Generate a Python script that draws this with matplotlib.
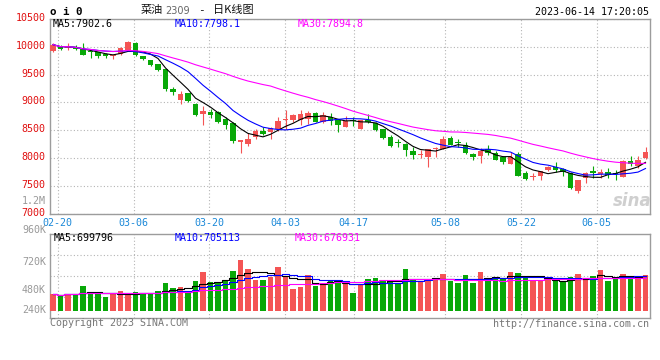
import matplotlib.pyplot as plt
import matplotlib.transforms as mtransforms
import numpy as np
import pandas as pd

# daily bars 02-17 .. 06-14
opens = [9920, 10000, 9975, 9990, 9965, 9920, 9900, 9875, 9828, 9875,
         9935, 10070, 9835, 9755, 9685, 9595, 9238, 9042, 9167, 8970,
         8798, 8827, 8830, 8702, 8637, 8285, 8250, 8375, 8494, 8476,
         8518, 8690, 8677, 8689, 8700, 8815, 8641, 8737, 8690, 8563,
         8683, 8520, 8677, 8630, 8527, 8378, 8280, 8244, 8119, 8060,
         8024, 8155, 8167, 8363, 8286, 8238, 8066, 8030, 8167, 8090,
         8012, 7900, 8080, 7732, 7655, 7673, 7780, 7839, 7804, 7726,
         7417, 7643, 7762, 7720, 7744, 7732, 7661, 7952, 7851, 8000]
highs = [10060, 10030, 10060, 10040, 10065, 9935, 9910, 9890, 9860, 9990,
         10100, 10085, 9840, 9760, 9690, 9600, 9280, 9200, 9175, 8990,
         8935, 8875, 8840, 8730, 8645, 8320, 8445, 8518, 8565, 8565,
         8732, 8868, 8797, 8868, 8850, 8820, 8826, 8809, 8707, 8761,
         8737, 8690, 8790, 8647, 8530, 8420, 8345, 8268, 8208, 8149,
         8161, 8208, 8399, 8399, 8340, 8286, 8100, 8179, 8238, 8120,
         8030, 8107, 8101, 7762, 7732, 7774, 7851, 7923, 7821, 7744,
         7601, 7750, 7863, 7804, 7821, 7792, 7970, 8042, 8042, 8196]
lows = [9900, 9950, 9950, 9935, 9845, 9800, 9800, 9800, 9780, 9860,
        9930, 9835, 9760, 9650, 9560, 9210, 9137, 8970, 9010, 8756,
        8600, 8715, 8635, 8530, 8275, 8090, 8220, 8340, 8417, 8340,
        8494, 8520, 8640, 8600, 8610, 8640, 8630, 8600, 8474, 8563,
        8580, 8515, 8630, 8480, 8342, 8205, 8208, 8030, 7982, 8000,
        7834, 8024, 8155, 8226, 8208, 8066, 7960, 7911, 8060, 7958,
        7900, 7900, 7670, 7613, 7613, 7613, 7762, 7750, 7685, 7453,
        7375, 7554, 7643, 7643, 7643, 7613, 7661, 7851, 7821, 7982]
closes = [10040, 9965, 10000, 9960, 9850, 9900, 9830, 9840, 9857, 9976,
          10085, 9845, 9775, 9670, 9575, 9235, 9190, 9149, 9030, 8780,
          8845, 8774, 8650, 8595, 8305, 8316, 8350, 8494, 8441, 8536,
          8673, 8705, 8767, 8791, 8803, 8653, 8779, 8665, 8587, 8659,
          8670, 8677, 8645, 8510, 8354, 8223, 8265, 8149, 8060, 8070,
          8161, 8190, 8345, 8238, 8270, 8083, 8012, 8131, 8090, 7970,
          7923, 8018, 7673, 7631, 7685, 7774, 7833, 7792, 7750, 7464,
          7601, 7732, 7726, 7744, 7702, 7708, 7952, 7893, 7958, 8107]
volumes = [337, 317, 337, 337, 499, 378, 351, 277, 337, 398,
           337, 378, 337, 337, 398, 560, 459, 479, 398, 600,
           782, 580, 560, 600, 802, 1024, 842, 620, 620, 681,
           883, 681, 438, 479, 721, 499, 539, 620, 600, 539,
           364, 539, 640, 661, 600, 580, 539, 842, 620, 600,
           620, 620, 741, 600, 560, 721, 560, 782, 640, 681,
           640, 782, 762, 681, 620, 620, 620, 600, 580, 681,
           741, 620, 701, 822, 600, 681, 741, 681, 681, 721]
volumes = [v * 1000 for v in volumes]

tick_labels = ["02-20", "03-06", "03-20", "04-03", "04-17", "05-08", "05-22", "06-05"]
tick_idx = [1, 11, 21, 31, 40, 52, 62, 72]
price_ticks = [7000, 7500, 8000, 8500, 9000, 9500, 10000, 10500]

RED = '#f45454'
GREEN = '#08a808'
GRID = '#b4b4b4'
BORDER = '#9c9c9c'
MONO = 'DejaVu Sans Mono'
CJK = ['Noto Sans CJK SC', 'DejaVu Sans']

o = np.array(opens)
c = np.array(closes)
n = len(c)
x = np.arange(n) + 0.4
colors = np.where(c >= o, RED, GREEN)
cs = pd.Series(closes)
vs = pd.Series(volumes)

W, H = 660, 360
fig = plt.figure(figsize=(6.6, 3.6), dpi=100)
fig.patch.set_facecolor('white')


def fx(px):
    return px / W


def fy(py):
    return 1 - py / H


ax = fig.add_axes([fx(50), fy(213.7), 600 / W, 194.7 / H])
axv = fig.add_axes([fx(50), fy(318.3), 600 / W, 84 / H])

# gridlines are spaced on n-1 intervals in the original, bars on n
grid_x = [i * n / (n - 1) for i in tick_idx]

for a in (ax, axv):
    a.set_xlim(0, n)
    for s in a.spines.values():
        s.set_color(BORDER)
        s.set_linewidth(1.0)
    a.set_xticks(grid_x)
    a.grid(True, color=GRID, linestyle=(0, (1, 2)), linewidth=0.8)
    a.set_axisbelow(True)
    a.tick_params(length=0)

# price panel
ax.vlines(x, lows, highs, colors=colors, linewidth=0.8, zorder=2)
ax.bar(x, np.maximum(np.abs(c - o), 10), bottom=np.minimum(o, c), width=0.78,
       color=colors, linewidth=0, zorder=3)
ax.plot(x, cs.rolling(5, min_periods=1).mean(), color='black', lw=0.8, zorder=4)
ax.plot(x, cs.rolling(10, min_periods=1).mean(), color='#0000ff', lw=0.8, zorder=4)
ax.plot(x, cs.rolling(30, min_periods=1).mean(), color='#ff00ff', lw=0.8, zorder=4)
ax.set_ylim(7000, 10500)
ax.set_yticks(price_ticks)
ax.set_yticklabels([str(t) for t in price_ticks], color='#e01010', fontsize=7.2, family=MONO)
ax.tick_params(axis='y', pad=3)
shift = mtransforms.ScaledTranslation(0, 0.02, fig.dpi_scale_trans)
for lab in ax.get_yticklabels():
    lab.set_transform(lab.get_transform() + shift)
ax.set_xticklabels(tick_labels, color='#1a88d8', fontsize=7.2, family=MONO)
ax.tick_params(axis='x', pad=3)

# volume panel
axv.bar(x, volumes, width=0.78, color=colors, linewidth=0, zorder=3)
axv.plot(x, vs.rolling(5, min_periods=1).mean(), color='black', lw=0.8,
         drawstyle='steps-mid', zorder=4)
axv.plot(x, vs.rolling(10, min_periods=1).mean(), color='#0000ff', lw=0.8,
         drawstyle='steps-mid', zorder=4)
axv.plot(x, vs.rolling(30, min_periods=1).mean(), color='#ff00ff', lw=0.8,
         drawstyle='steps-mid', zorder=4)
lo, hi = -150000, 1540000
axv.set_ylim(lo, hi)
axv.set_yticks(np.linspace(lo, hi, 5)[1:4])
axv.set_yticklabels([])
axv.set_xticklabels([])

# header
fig.text(fx(50), fy(11.7), 'o i 0', fontsize=7.8, family=MONO, weight='bold', va='center')
fig.text(fx(141), fy(10), '菜油', fontsize=8, color='#111111', family=CJK, va='center')
fig.text(fx(165), fy(10.5), '2309', fontsize=7, color='#666666', family='DejaVu Sans', va='center')
fig.text(fx(198), fy(10), '-', fontsize=8, color='#111111', family=MONO, va='center')
fig.text(fx(213), fy(10), '日K线图', fontsize=8, color='#111111', family=CJK, va='center')
fig.text(fx(649), fy(12.2), '2023-06-14 17:20:05', fontsize=7.2, family=MONO,
         ha='right', va='center')

fig.text(fx(53), fy(23.7), 'MA5:7902.6', fontsize=7.2, family=MONO, color='black', va='center')
fig.text(fx(175), fy(23.7), 'MA10:7798.1', fontsize=7.2, family=MONO, color='#0000ff', va='center')
fig.text(fx(298), fy(23.7), 'MA30:7894.8', fontsize=7.2, family=MONO, color='#ff00ff', va='center')
fig.text(fx(46), fy(200.7), '1.2M', fontsize=7.2, family=MONO, color='#999999',
         ha='right', va='center')

fig.text(fx(54), fy(238.3), 'MA5:699796', fontsize=7.2, family=MONO, color='black', va='center')
fig.text(fx(175), fy(238.3), 'MA10:705113', fontsize=7.2, family=MONO, color='#0000ff', va='center')
fig.text(fx(295), fy(238.3), 'MA30:676931', fontsize=7.2, family=MONO, color='#ff00ff', va='center')
for lab, py in [('960K', 230.3), ('720K', 261.7), ('480K', 290.3), ('240K', 310.3)]:
    fig.text(fx(46), fy(py), lab, fontsize=7.2, family=MONO, color='#999999',
             ha='right', va='center')

fig.text(fx(50), fy(323.5), 'Copyright 2023 SINA.COM', fontsize=7.2, family=MONO,
         color='#777777', va='center')
fig.text(fx(649), fy(324), 'http://finance.sina.com.cn', fontsize=7.2, family=MONO,
         color='#777777', ha='right', va='center')
fig.text(fx(632), fy(201), 'sina', fontsize=12, family='DejaVu Sans', style='italic',
         weight='bold', color='#cfcfcf', ha='center', va='center')

fig.savefig('out.png', dpi=100)
